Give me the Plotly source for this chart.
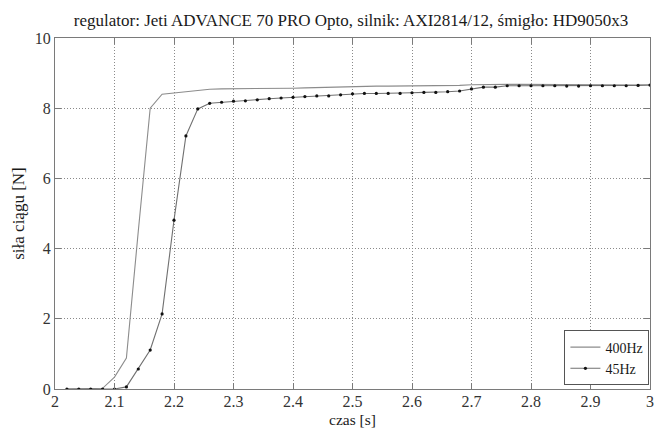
import plotly.graph_objects as go

# 400Hz series
t_400 = [2.02, 2.04, 2.06, 2.08, 2.10, 2.12, 2.14, 2.16, 2.18, 2.20, 2.22, 2.24, 2.26, 2.28, 2.30,
         2.32, 2.34, 2.36, 2.38, 2.40, 2.42, 2.44, 2.46, 2.48, 2.50, 2.52, 2.54, 2.56, 2.58, 2.60,
         2.62, 2.64, 2.66, 2.68, 2.70, 2.72, 2.74, 2.76, 2.78, 2.80, 2.82, 2.84, 2.86, 2.88, 2.90,
         2.92, 2.94, 2.96, 2.98, 3.00]
f_400 = [0, 0, 0, 0.02, 0.34, 0.88, 4.5, 8.0, 8.4, 8.44, 8.48, 8.51, 8.54, 8.55, 8.55,
         8.55, 8.56, 8.56, 8.57, 8.57, 8.58, 8.59, 8.6, 8.62, 8.63, 8.63, 8.63, 8.63, 8.63, 8.63,
         8.63, 8.63, 8.64, 8.65, 8.67, 8.68, 8.68, 8.68, 8.68, 8.68, 8.68, 8.68, 8.67, 8.66, 8.66,
         8.66, 8.66, 8.66, 8.66, 8.66]

# 45Hz series
t_45 = t_400
f_45 = [0, 0, 0, 0, 0, 0.06, 0.57, 1.11, 2.14, 4.81, 7.21, 7.98, 8.14, 8.17, 8.2,
        8.21, 8.24, 8.27, 8.29, 8.31, 8.33, 8.35, 8.35, 8.38, 8.41, 8.42, 8.42, 8.42, 8.42, 8.44,
        8.45, 8.45, 8.47, 8.49, 8.55, 8.6, 8.6, 8.64, 8.64, 8.64, 8.64, 8.64, 8.63, 8.63, 8.64,
        8.64, 8.64, 8.64, 8.65, 8.66]

x_ticks = [2, 2.1, 2.2, 2.3, 2.4, 2.5, 2.6, 2.7, 2.8, 2.9, 3]
x_tick_labels = ["2", "2.1", "2.2", "2.3", "2.4", "2.5", "2.6", "2.7", "2.8", "2.9", "3"]
y_ticks = [0, 2, 4, 6, 8, 10]

FONT = "Liberation Serif, Times New Roman, serif"
TXT = "#1a1a1a"

fig = go.Figure()
fig.add_trace(go.Scatter(x=t_400, y=f_400, mode="lines", name="400Hz",
                         line=dict(color="#8c8c8c", width=1.1)))
fig.add_trace(go.Scatter(x=t_45, y=f_45, mode="lines+markers", name="45Hz",
                         line=dict(color="#707070", width=1.1),
                         marker=dict(color="#111111", size=3.2)))

axis_common = dict(showline=True, mirror="ticks", linecolor="#7a7a7a", linewidth=1,
                   ticks="inside", ticklen=6, tickcolor="#7a7a7a",
                   showgrid=True, gridcolor="#8a8a8a", griddash="1px,2px", gridwidth=1,
                   zeroline=False, tickfont=dict(family=FONT, size=16, color="#333333"))

# the page body has an 8px default margin, so the figure is offset by (8, 8)
fig.update_layout(
    width=656, height=420,
    paper_bgcolor="white", plot_bgcolor="white",
    margin=dict(l=47, r=14, t=30, b=39, autoexpand=False),
    title=dict(text="regulator: Jeti ADVANCE 70 PRO Opto, silnik: AXI2814/12, śmigło: HD9050x3",
               x=0.523, xanchor="center", y=0.971, yanchor="middle",
               font=dict(family=FONT, size=17, color=TXT)),
    font=dict(family=FONT, color=TXT),
    xaxis=dict(range=[2, 3], tickvals=x_ticks, ticktext=x_tick_labels,
               ticklabelstandoff=-2, **axis_common),
    yaxis=dict(range=[0, 10], tickvals=y_ticks,
               title=dict(text="siła ciągu [N]", font=dict(family=FONT, size=17, color=TXT), standoff=5),
               **axis_common),
    legend=dict(x=0.999, y=0.01, xanchor="right", yanchor="bottom",
                bordercolor="#555555", borderwidth=1, bgcolor="white",
                font=dict(family=FONT, size=14, color=TXT),
                itemwidth=30, tracegroupgap=0),
    showlegend=True,
    annotations=[dict(text="czas [s]", xref="paper", yref="paper", x=0.5, y=-0.0855,
                      xanchor="center", yanchor="middle", showarrow=False,
                      font=dict(family=FONT, size=15.5, color=TXT))],
)

fig.write_html("out.html")
